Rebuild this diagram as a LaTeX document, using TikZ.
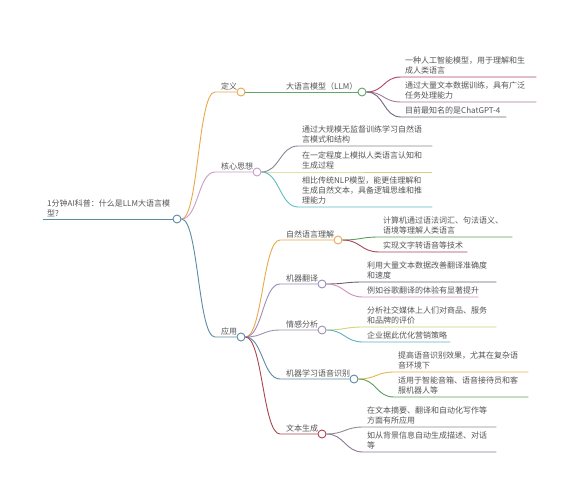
\documentclass[tikz,border=0pt]{standalone}
\usepackage{fontspec}
\newfontfamily\cjk{Noto Sans CJK SC}
\definecolor{txtgray}{HTML}{555555}
\definecolor{cSteel}{HTML}{5D8BA5}
\definecolor{cOrange}{HTML}{E9A84C}
\definecolor{cLPurple}{HTML}{C89CCB}
\definecolor{cGreen}{HTML}{62A46B}
\definecolor{cLa}{HTML}{B5455F}
\definecolor{cLb}{HTML}{A77B9F}
\definecolor{cLc}{HTML}{72667E}
\definecolor{cKa}{HTML}{8B8594}
\definecolor{cKb}{HTML}{CFD47A}
\definecolor{cKc}{HTML}{5FBCC4}
\definecolor{cNa}{HTML}{5B9C5C}
\definecolor{cNb}{HTML}{A3485A}
\definecolor{cMT}{HTML}{9B8BBD}
\definecolor{cMa}{HTML}{6D5E73}
\definecolor{cMb}{HTML}{D48FB7}
\definecolor{cSA}{HTML}{9F90AD}
\definecolor{cEa}{HTML}{CFD47A}
\definecolor{cEb}{HTML}{5FB2BF}
\definecolor{cVa}{HTML}{E9B44C}
\definecolor{cVb}{HTML}{5B9C5C}
\definecolor{cTG}{HTML}{A8464F}
\definecolor{cTa}{HTML}{8D8D8D}
\definecolor{cTb}{HTML}{8A7B93}
\tikzset{
  mmfont/.style={font=\cjk\fontsize{8}{10}\selectfont, text=txtgray},
  lbl/.style={mmfont, inner xsep=6pt, inner ysep=2pt, anchor=south west},
  leaf/.style={mmfont, inner xsep=4pt, inner ysep=2.5pt, align=left, anchor=south west},
  dot/.style={circle, draw, fill=white, minimum size=8pt, inner sep=0pt, line width=0.9pt},
  conn/.style={line width=0.9pt}
}
\newcommand\mmleaf[7]{%
  \pgfmathsetlengthmacro\mmlw{#4-#2-4}%
  \node[leaf, text width=\mmlw] (#1) at (#2-4,#3) {#7};
  \draw[conn, #5] (#6.east) .. controls +(18,0) and +(-18,0) .. (#1.south west) -- (#1.south east);
}
\begin{document}
\begin{tikzpicture}[x=1pt,y=-1pt]
\useasboundingbox (0,0) rectangle (580,500);
\fill[white] (0,0) rectangle (580,500);

% circles
\node[dot, draw=cSteel] (root) at (177,219) {};
\node[dot, draw=cOrange] (def) at (241,92) {};
\node[dot, draw=cLPurple] (core) at (257,172) {};
\node[dot, draw=cSteel] (app) at (241,337) {};
\node[dot, draw=cGreen] (llm) at (362,92) {};
\node[dot, draw=cOrange] (nlu) at (338,240) {};
\node[dot, draw=cMT] (mt) at (322,284) {};
\node[dot, draw=cSA] (sa) at (322,330) {};
\node[dot, draw=cSteel] (asr) at (354,379) {};
\node[dot, draw=cTG] (tg) at (322,434) {};

% root label
\node[lbl, inner xsep=4pt, align=left] (roottxt) at (43,219) {1分钟AI科普：什么是LLM大语言模\\型?};
\draw[conn, cSteel] (roottxt.south west) -- (root.west);

% level 1 labels
\node[lbl] (deftxt) at (215,92) {定义};
\node[lbl] (coretxt) at (215,172) {核心思想};
\node[lbl] (apptxt) at (215,337) {应用};
\draw[conn, cOrange] (root.east) .. controls +(17,0) and +(-17,0) .. (deftxt.south west) -- (def.west);
\draw[conn, cLPurple] (root.east) .. controls +(17,0) and +(-17,0) .. (coretxt.south west) -- (core.west);
\draw[conn, cSteel] (root.east) .. controls +(17,0) and +(-17,0) .. (apptxt.south west) -- (app.west);

% LLM
\node[mmfont, inner xsep=0pt, inner ysep=2pt, anchor=south west] (llmtxt) at (286,92) {大语言模型（LLM）};
\draw[conn, cGreen] (def.east) -- (llm.west);

% application labels
\node[lbl] (nlutxt) at (280,240) {自然语言理解};
\node[lbl] (mttxt) at (280,284) {机器翻译};
\node[lbl] (satxt) at (280,330) {情感分析};
\node[lbl] (asrtxt) at (280,379) {机器学习语音识别};
\node[lbl] (tgtxt) at (280,434) {文本生成};
\draw[conn, cOrange] (app.east) .. controls +(17,0) and +(-17,0) .. (nlutxt.south west) -- (nlu.west);
\draw[conn, cMT] (app.east) .. controls +(17,0) and +(-17,0) .. (mttxt.south west) -- (mt.west);
\draw[conn, cSA] (app.east) .. controls +(17,0) and +(-17,0) .. (satxt.south west) -- (sa.west);
\draw[conn, cSteel] (app.east) .. controls +(17,0) and +(-17,0) .. (asrtxt.south west) -- (asr.west);
\draw[conn, cTG] (app.east) .. controls +(17,0) and +(-17,0) .. (tgtxt.south west) -- (tg.west);

% leaves
\mmleaf{La}{405}{77}{536}{cLa}{llm}{一种人工智能模型，用于理解和生\\成人类语言}
\mmleaf{Lb}{405}{102}{536}{cLb}{llm}{通过大量文本数据训练，具有广泛\\任务处理能力}
\mmleaf{Lc}{405}{117}{506}{cLc}{llm}{目前最知名的是ChatGPT-4}

\mmleaf{Ka}{302}{146}{432}{cKa}{core}{通过大规模无监督训练学习自然语\\言模式和结构}
\mmleaf{Kb}{302}{172}{432}{cKb}{core}{在一定程度上模拟人类语言认知和\\生成过程}
\mmleaf{Kc}{302}{207}{432}{cKc}{core}{相比传统NLP模型，能更佳理解和\\生成自然文本，具备逻辑思维和推\\理能力}

\mmleaf{Na}{383}{237}{512}{cNa}{nlu}{计算机通过语法词汇、句法语义、\\语境等理解人类语言}
\mmleaf{Nb}{383}{252}{467}{cNb}{nlu}{实现文字转语音等技术}

\mmleaf{Ma}{367}{282}{496}{cMa}{mt}{利用大量文本数据改善翻译准确度\\和速度}
\mmleaf{Mb}{367}{297}{478}{cMb}{mt}{例如谷歌翻译的体验有显著提升}

\mmleaf{Ea}{367}{327}{496}{cEa}{sa}{分析社交媒体上人们对商品、服务\\和品牌的评价}
\mmleaf{Eb}{367}{342}{450}{cEb}{sa}{企业据此优化营销策略}

\mmleaf{Va}{398}{372}{528}{cVa}{asr}{提高语音识别效果，尤其在复杂语\\音环境下}
\mmleaf{Vb}{398}{397}{528}{cVb}{asr}{适用于智能音箱、语音接待员和客\\服机器人等}

\mmleaf{Ta}{367}{427}{496}{cTa}{tg}{在文本摘要、翻译和自动化写作等\\方面有所应用}
\mmleaf{Tb}{367}{452}{496}{cTb}{tg}{如从背景信息自动生成描述、对话\\等}
\end{tikzpicture}
\end{document}
